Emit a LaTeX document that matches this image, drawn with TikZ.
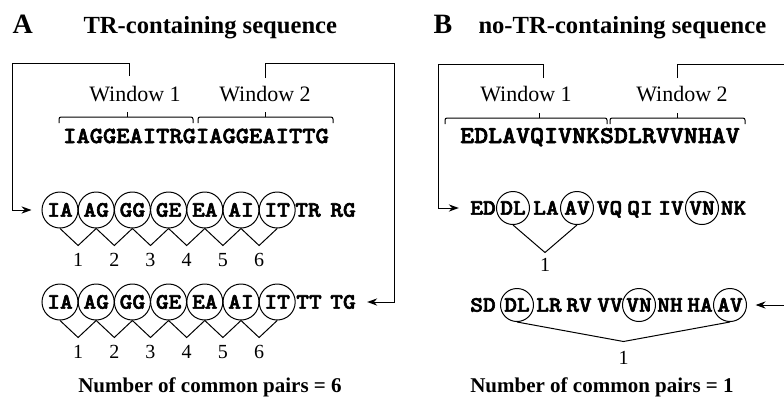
\documentclass[tikz,border=0pt]{standalone}
\usepackage{fontspec}
\setmainfont{Liberation Serif}
\newfontfamily\seqface{lmmonolt10-bold.otf}[FakeStretch=1.1,FakeBold=2.6]
\usepackage{tikz}
\usetikzlibrary{positioning,arrows.meta}
\newcommand{\seqfontA}{\fontsize{11.5}{13}\selectfont\seqface}
\newcommand{\seqfontB}{\fontsize{12.1}{14}\selectfont\seqface}
\newcommand{\pairfont}{\fontsize{11}{13}\selectfont\seqface}
\newcommand{\winbrace}[4]{%
	\draw[rounded corners=1pt] (#1,#4+6) -- (#1,#4) -- (#2,#4) -- (#2,#4+6);
	\draw (#3,#4) -- (#3,#4-5);}

\begin{document}
\begin{tikzpicture}[x=0.5pt,y=-0.5pt,line width=0.5pt,
	letter/.style={font=\fontsize{14}{16}\selectfont\bfseries,anchor=base west,inner sep=0pt},
	title/.style={font=\fontsize{12.3}{14}\selectfont\bfseries,anchor=base west,inner sep=0pt},
	win/.style={font=\fontsize{11}{13}\selectfont,anchor=base,inner sep=0pt},
	total/.style={font=\fontsize{10.5}{12}\selectfont\bfseries,anchor=base,inner sep=0pt},
	num/.style={font=\fontsize{10}{12}\selectfont,inner sep=1pt},
	pairt/.style={font=\pairfont,text height=6.7pt,text depth=0pt,inner sep=0pt},
	pairc/.style={pairt,draw,circle,minimum size=18pt},
	pairb/.style={pairc,minimum size=16.5pt},
	flow/.style={-{Stealth[length=5pt,width=3.6pt]},shorten >=5pt}]
\useasboundingbox (0,0) rectangle (784,403);

% A: TR-containing sequence
\node[letter] (labA) at (12,33) {A};
\node[title] (titA) at (83,33) {TR-containing sequence};
\node[win] (wA1) at (135,101) {Window 1};
\node[win] (wA2) at (265,101) {Window 2};
\node[pairt,font=\seqfontA,anchor=base] (sA) at (196,143) {IAGGEAITRGIAGGEAITTG};
\winbrace{59}{193}{127}{117}
\winbrace{198}{333}{265}{117}

\foreach \p [count=\i] in {IA,AG,GG,GE,EA,AI,IT} {
	\node[pairc] (a1\i) at ({60+36.2*(\i-1)},210) {\p};
	\node[pairc] (a2\i) at ({60+36.2*(\i-1)},302) {\p};
}
\node[pairt] (a18) at (308,210) {TR};
\node[pairt] (a19) at (343,210) {RG};
\node[pairt] (a28) at (309,302) {TT};
\node[pairt] (a29) at (343,302) {TG};

\foreach \r in {1,2}
	\foreach \i [count=\j from 2] in {1,...,6} {
		\path (a\r\i.south) -- (a\r\j.south) coordinate[pos=.5,yshift=-8.5pt] (va\r\i);
		\draw (a\r\i.south) -- (va\r\i) -- (a\r\j.south);
		\node[num,below=2.5pt of va\r\i] (na\r\i) {\i};
	}

\coordinate (tA1) at (129,76);
\coordinate (kA1) at (12,63);
\coordinate (tA2) at (265,78);
\coordinate (kA2) at (394,63);
\draw[flow] (tA1) |- (kA1) |- (a11);
\draw[flow,shorten >=5.5pt] (tA2) |- (kA2) |- (a29);

\node[total] (totA) at (210,392) {Number of common pairs = 6};

% B: no-TR-containing sequence
\node[letter] (labB) at (433,33) {B};
\node[title] (titB) at (478,33) {no-TR-containing sequence};
\node[win] (wB1) at (526,101) {Window 1};
\node[win] (wB2) at (682,101) {Window 2};
\node[pairt,font=\seqfontB,anchor=base] (sB) at (600,143) {EDLAVQIVNKSDLRVVNHAV};
\winbrace{445}{607}{539}{118}
\winbrace{610}{745}{677}{118}

\foreach \p/\x/\i in {ED/483/1,LA/546/3,VQ/609.5/5,QI/640/6,IV/671/7,NK/733.5/9}
	\node[pairt] (b1\i) at (\x,208) {\p};
\foreach \p/\x/\i in {DL/513/2,AV/577/4,VN/702/8}
	\node[pairb] (b1\i) at (\x,208) {\p};
\foreach \p/\x/\i in {SD/483/1,LR/549/3,RV/579/4,VV/610/5,NH/670/7,HA/700/8}
	\node[pairt] (b2\i) at (\x,305) {\p};
\foreach \p/\x/\i in {DL/517/2,VN/639/6,AV/730/9}
	\node[pairb] (b2\i) at (\x,305) {\p};

\path (b12.south) -- (b14.south) coordinate[pos=.5,yshift=-13.75pt] (vb1);
\draw (b12.south) -- (vb1) -- (b14.south);
\node[num,below=1.5pt of vb1] (nb1) {1};
\path (b22.south) -- (b29.south) coordinate[pos=.5,yshift=-9.75pt] (vb2);
\draw (b22.south) -- (vb2) -- (b29.south);
\node[num,below=3.5pt of vb2] (nb2) {1};

\coordinate (tB1) at (543,78);
\coordinate (kB1) at (438,64);
\coordinate (tB2) at (677,78);
\coordinate (kB2) at (800,64);
\draw[flow,shorten >=5.5pt] (tB1) |- (kB1) |- (b11);
\draw[flow,shorten >=4.3pt] (tB2) |- (kB2) |- (b29);

\node[total] (totB) at (602,392) {Number of common pairs = 1};
\end{tikzpicture}
\end{document}
